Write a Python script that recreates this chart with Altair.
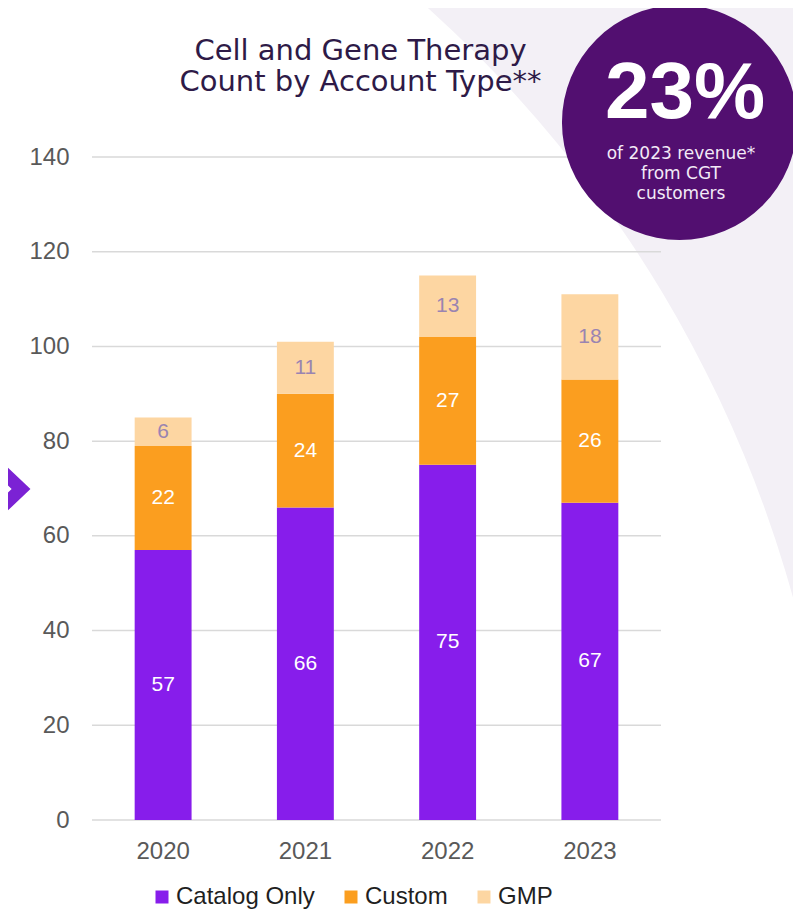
import math
import altair as alt
import pandas as pd

# ---- data ----
years = ["2020", "2021", "2022", "2023"]
series = ["Catalog Only", "Custom", "GMP"]
catalog_only = [57, 66, 75, 67]
custom = [22, 24, 27, 26]
gmp = [6, 11, 13, 18]
colors = ["#871deb", "#fb9e1f", "#fdd6a2"]
y_ticks = [0, 20, 40, 60, 80, 100, 120, 140]

title_lines = ["Cell and Gene Therapy", "Count by Account Type**"]
badge_value = "23%"
badge_lines = ["of 2023 revenue*", "from CGT", "customers"]

rows = []
for i, yr in enumerate(years):
    base = 0
    for k, (s, vals) in enumerate(zip(series, [catalog_only, custom, gmp])):
        v = vals[i]
        rows.append(dict(year=yr, series=s, value=v, order=k, mid=base + v / 2))
        base += v
df = pd.DataFrame(rows)
grid_df = pd.DataFrame({"t": y_ticks})
one = pd.DataFrame({"a": [1]})

AX = "Liberation Sans"
BRAND = "DejaVu Sans"

yscale = alt.Scale(domain=[0, 140])
yaxis = alt.Axis(values=y_ticks, title=None, grid=False, ticks=False, domain=False,
                 labelFont=AX, labelFontSize=24, labelColor="#595959", labelPadding=23)
xaxis = alt.Axis(title=None, labelAngle=0, ticks=False, domain=False, grid=False,
                 labelFont=AX, labelFontSize=24, labelColor="#595959", labelPadding=19)
xenc = alt.X("year:N", sort=years, scale=alt.Scale(paddingInner=0.6, paddingOuter=0.3), axis=xaxis)

bg = alt.Chart(one).mark_arc(theta=0, theta2=math.pi / 2, radius=2600, radius2=1237,
                             color="#f3f0f6").encode(x=alt.value(-491), y=alt.value(771))

grid = alt.Chart(grid_df).mark_rule(color="#d9d9d9", strokeWidth=1.5).encode(
    y=alt.Y("t:Q", scale=yscale, axis=yaxis))

bars = alt.Chart(df).mark_bar().encode(
    x=xenc,
    y=alt.Y("value:Q", stack="zero", scale=yscale, axis=yaxis),
    color=alt.Color("series:N", sort=series, scale=alt.Scale(domain=series, range=colors),
                    legend=alt.Legend(title=None, orient="none", direction="horizontal",
                                      legendX=58, legendY=728, symbolType="square",
                                      symbolSize=169, symbolStrokeWidth=0,
                                      labelFont=AX, labelFontSize=24, labelColor="#1f1f1f",
                                      labelOffset=2, columnPadding=24, padding=0)),
    order=alt.Order("order:Q", sort="ascending"),
)

labels = alt.Chart(df).mark_text(font=AX, fontSize=21, baseline="middle", align="center").encode(
    x=xenc,
    y=alt.Y("mid:Q", scale=yscale, axis=yaxis),
    text="value:Q",
    color=alt.condition(alt.datum.series == "GMP", alt.value("#9a84b1"), alt.value("#ffffff")),
)

t1 = alt.Chart(one).mark_text(text=title_lines[0], font=BRAND, fontSize=29, color="#2e1a47",
                              align="center", baseline="alphabetic").encode(
    x=alt.value(268.5), y=alt.value(-97))
t2 = alt.Chart(one).mark_text(text=title_lines[1], font=BRAND, fontSize=29, color="#2e1a47",
                              align="center", baseline="alphabetic").encode(
    x=alt.value(268.5), y=alt.value(-66))

circle = alt.Chart(one).mark_arc(theta=0, theta2=2 * math.pi, radius=117.5,
                                 color="#520f70").encode(x=alt.value(587.5), y=alt.value(-34.5))
pct = alt.Chart(one).mark_text(text=badge_value, font=AX, fontWeight="bold", fontSize=80,
                               color="#ffffff", align="center", baseline="alphabetic").encode(
    x=alt.value(593), y=alt.value(-39))
subs = [
    alt.Chart(one).mark_text(text=line, font=BRAND, fontSize=17, color="#f3eaf7",
                             align="center", baseline="alphabetic").encode(
        x=alt.value(589), y=alt.value(1.5 + 20 * i))
    for i, line in enumerate(badge_lines)
]

chevron = alt.Chart(one).mark_point(
    shape="M -0.456 -0.867 L 0.456 0 L -0.456 0.867 M -1 0 L 0.15 0",
    size=8100, filled=False, stroke="#7b22d4", strokeWidth=13, opacity=1,
    strokeJoin="miter").encode(x=alt.value(-91.5), y=alt.value(332))

chart = alt.layer(bg, grid, bars, labels, t1, t2, circle, pct, *subs, chevron).properties(
    width=569, height=663,
    padding={"left": 84, "top": 149, "right": 132, "bottom": 90},
    autosize=alt.AutoSizeParams(type="none"),
    background="#ffffff",
).configure_view(stroke=None)

chart.save("out.html", embed_options={"renderer": "svg", "actions": False})
